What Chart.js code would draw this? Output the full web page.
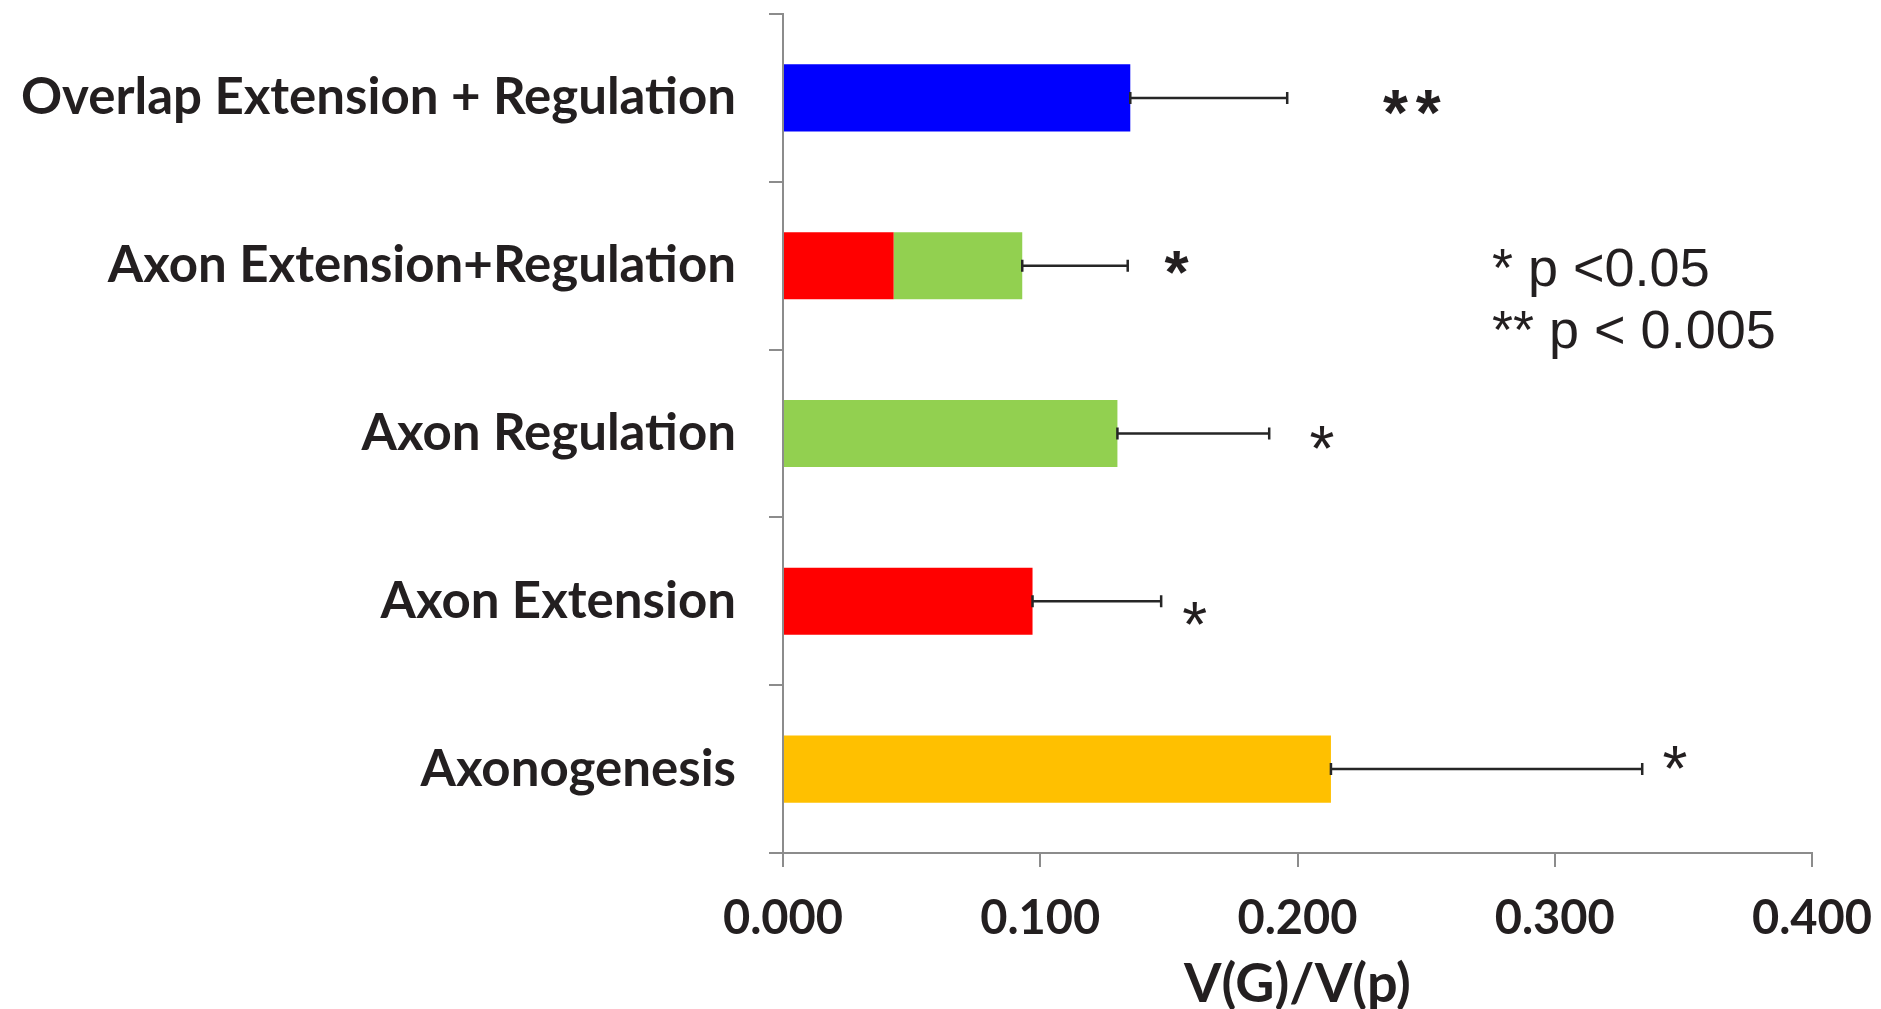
<!DOCTYPE html>
<html>
<head>
<meta charset="utf-8">
<script src="https://cdn.jsdelivr.net/npm/chart.js@4/dist/chart.umd.min.js"></script>
<style>
  body { margin: 0; background: #fff; }
  #wrap { width: 1881px; height: 1009px; }
</style>
</head>
<body>
<div id="wrap"><canvas id="chart"></canvas></div>
<script>
const categories = [
  "Overlap Extension + Regulation",
  "Axon Extension+Regulation",
  "Axon Regulation",
  "Axon Extension",
  "Axonogenesis"
];
const overlapValues = [0.135, null, null, null, null];
const extensionValues = [null, 0.043, null, 0.097, null];
const regulationValues = [null, 0.050, 0.130, null, null];
const axonogenesisValues = [null, null, null, null, 0.213];
const errorValues = [0.061, 0.041, 0.059, 0.050, 0.121];
const starLabels = ["**", "*", "*", "*", "*"];
const starValues = [0.246, 0.153, 0.2095, 0.160, 0.3467];
const noteLines = ["* p <0.05", "** p < 0.005"];

const textColor = "#231f20";
const axisColor = "#8c8c8c";
const labelFont = { family: "Lato", weight: "bold", size: 51 };
const tickFont = { family: "Lato", weight: "bold", size: 47 };
const titleFont = { family: "Lato", weight: "bold", size: 54, lineHeight: 0.9 };

// small look tweaks for the stars (pixel offset from bar centre, font)
const starDy = [5, -3, 4, 12, -12];
const starFonts = [
  "bold 64px 'Liberation Sans'", "bold 62px 'Liberation Sans'",
  "64px 'Liberation Sans'", "64px 'Liberation Sans'", "64px 'Liberation Sans'"
];

const noPad = s => {
  s.paddingTop = 0; s.paddingBottom = 0;
  s.paddingLeft = 0; s.paddingRight = 0;
};

const errorBars = {
  id: "errorBars",
  afterDatasetsDraw(chart) {
    const { ctx, scales: { x, y } } = chart;
    ctx.save();
    ctx.strokeStyle = "#262626";
    ctx.lineWidth = 2.5;
    categories.forEach((c, i) => {
      let total = 0;
      chart.data.datasets.forEach(ds => { total += ds.data[i] || 0; });
      const x0 = x.getPixelForValue(total);
      const x1 = x.getPixelForValue(total + errorValues[i]);
      const yc = y.getPixelForValue(i);
      ctx.beginPath();
      ctx.moveTo(x0, yc); ctx.lineTo(x1, yc);
      ctx.moveTo(x0, yc - 6); ctx.lineTo(x0, yc + 6);
      ctx.moveTo(x1, yc - 6); ctx.lineTo(x1, yc + 6);
      ctx.stroke();
    });
    ctx.restore();
  },
  afterDraw(chart) {
    const { ctx, scales: { x, y } } = chart;
    ctx.save();
    ctx.fillStyle = textColor;
    ctx.textAlign = "center";
    ctx.textBaseline = "alphabetic";
    starLabels.forEach((s, i) => {
      ctx.font = starFonts[i];
      ctx.letterSpacing = s.length > 1 ? "8px" : "0px";
      const m = ctx.measureText(s);
      const cy = y.getPixelForValue(i) + starDy[i];
      const base = cy + (m.actualBoundingBoxAscent - m.actualBoundingBoxDescent) / 2;
      ctx.fillText(s, x.getPixelForValue(starValues[i]), base);
    });
    ctx.letterSpacing = "0px";
    ctx.textAlign = "left";
    ctx.font = "54px 'Liberation Sans'";
    ctx.fillText(noteLines[0], 1492, 286);
    ctx.fillText(noteLines[1], 1492, 348);
    ctx.restore();
  }
};

new Chart(document.getElementById("chart"), {
  type: "bar",
  data: {
    labels: categories,
    datasets: [
      { label: "Overlap", data: overlapValues, backgroundColor: "#0000ff" },
      { label: "Extension", data: extensionValues, backgroundColor: "#ff0000" },
      { label: "Regulation", data: regulationValues, backgroundColor: "#92d050" },
      { label: "Axonogenesis", data: axonogenesisValues, backgroundColor: "#ffc000" }
    ]
  },
  options: {
    indexAxis: "y",
    responsive: true,
    maintainAspectRatio: false,
    animation: false,
    datasets: { bar: { barPercentage: 0.4, categoryPercentage: 1 } },
    layout: { padding: { top: 14, right: 69, left: 0, bottom: 0 } },
    plugins: { legend: { display: false }, tooltip: { enabled: false } },
    scales: {
      x: {
        stacked: true,
        min: 0,
        max: 0.4,
        ticks: {
          stepSize: 0.1,
          color: textColor,
          font: tickFont,
          padding: 24,
          callback: v => v.toFixed(3)
        },
        grid: { drawOnChartArea: false, tickLength: 14, color: axisColor, lineWidth: 2 },
        border: { color: axisColor, width: 2 },
        title: {
          display: true,
          text: "V(G)/V(p)",
          color: textColor,
          font: titleFont,
          padding: { top: 0, bottom: 0 }
        },
        afterFit: s => { s.height = 156; noPad(s); }
      },
      y: {
        stacked: true,
        ticks: { color: textColor, font: labelFont, padding: 33 },
        grid: { offset: true, drawOnChartArea: false, tickLength: 14, color: axisColor, lineWidth: 2 },
        border: { color: axisColor, width: 2 },
        afterFit: s => { s.width = 783; noPad(s); }
      }
    }
  },
  plugins: [errorBars]
});
</script>
</body>
</html>
